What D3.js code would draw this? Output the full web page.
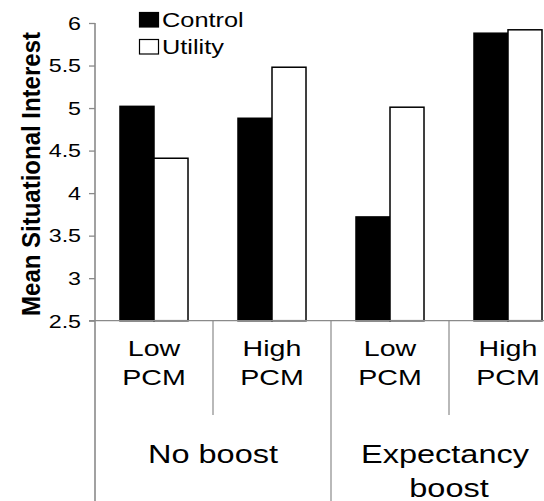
<!DOCTYPE html>
<html>
<head>
<meta charset="utf-8">
<script src="https://cdn.jsdelivr.net/npm/d3@7"></script>
<style>
  body { margin: 0; background: #fff; }
  text { font-family: "Liberation Sans", Arial, sans-serif; fill: #000; }
</style>
</head>
<body>
<div id="chart"></div>
<script>
// data
var cells = ["Low PCM (No boost)", "High PCM (No boost)", "Low PCM (Expectancy)", "High PCM (Expectancy)"];
var cellLines = [["Low", "PCM"], ["High", "PCM"], ["Low", "PCM"], ["High", "PCM"]];
var groups = ["No boost", "Expectancy boost"];
var groupLines = [["No boost"], ["Expectancy", "boost"]];
var series = ["Control", "Utility"];
var control = [5.02, 4.88, 3.72, 5.88];
var utility = [4.41, 5.48, 5.01, 5.92];
var yTicks = [2.5, 3, 3.5, 4, 4.5, 5, 5.5, 6];

var W = 544, H = 501;
var plotLeft = 95, plotRight = 567, plotTop = 23, base = 320.7;
var stretch = 1.3; // text in the picture is drawn wide

var svg = d3.select("#chart").append("svg")
  .attr("width", W)
  .attr("height", H);

var y = d3.scaleLinear().domain([2.5, 6]).range([base, plotTop]);

var x0 = d3.scaleBand()
  .domain(cells)
  .range([plotLeft, plotRight])
  .paddingInner(0)
  .paddingOuter(0);

var x1 = d3.scaleBand()
  .domain(series)
  .range([0, x0.bandwidth()])
  .paddingInner(0)
  .paddingOuter(0.735);

// bars
var rows = cells.map(function(c, i) {
  return [{cell: c, s: "Control", v: control[i]}, {cell: c, s: "Utility", v: utility[i]}];
});

svg.append("g").selectAll("g")
  .data(rows)
  .enter().append("g")
  .selectAll("rect")
  .data(function(d) { return d; })
  .enter().append("rect")
    .attr("x", function(d) { return x0(d.cell) + x1(d.s); })
    .attr("y", function(d) { return y(d.v); })
    .attr("width", x1.bandwidth())
    .attr("height", function(d) { return y(2.5) - y(d.v); })
    .style("fill", function(d) { return d.s == "Control" ? "#000" : "#fff"; })
    .style("stroke", "#000")
    .style("stroke-width", 1.5);

// y axis
var yAxis = svg.append("g")
  .attr("transform", "translate(" + plotLeft + ",0)")
  .call(d3.axisLeft(y).tickValues(yTicks).tickSize(6).tickFormat(d3.format("")));
yAxis.select(".domain").remove();
yAxis.selectAll(".tick line").style("stroke", "#8a8a8a").style("stroke-width", 1.3);
yAxis.selectAll(".tick text")
  .attr("x", -10.5)
  .attr("dy", "0.36em")
  .attr("transform", "scale(1.33,1)")
  .style("font-size", "17.5px")
  .style("font-family", "'Liberation Sans', Arial, sans-serif")
  .style("fill", "#000");

// axis lines and dividers
var grey = "#8a8a8a";
svg.append("line")
  .attr("x1", plotLeft).attr("x2", plotLeft)
  .attr("y1", plotTop).attr("y2", H)
  .style("stroke", grey).style("stroke-width", 1.6);
svg.append("line")
  .attr("x1", plotLeft - 6).attr("x2", W)
  .attr("y1", base).attr("y2", base)
  .style("stroke", grey).style("stroke-width", 1.3);

cells.forEach(function(c, i) {
  if (i == 0) return;
  var xx = x0(c);
  svg.append("line")
    .attr("x1", xx).attr("x2", xx)
    .attr("y1", base).attr("y2", i % 2 == 0 ? H : 415)
    .style("stroke", grey).style("stroke-width", 1.2);
});

// wide text helper
function wideText(g, str, x, yy, size, anchor, weight) {
  g.append("text")
    .attr("transform", "translate(" + x + "," + yy + ") scale(" + stretch + ",1)")
    .attr("text-anchor", anchor)
    .style("font-size", size + "px")
    .style("font-weight", weight || "normal")
    .text(str);
}

// category labels
cells.forEach(function(c, i) {
  var cx = x0(c) + x0.bandwidth() / 2;
  wideText(svg, cellLines[i][0], cx, 355.5, 22, "middle");
  wideText(svg, cellLines[i][1], cx, 385, 22, "middle");
});

// group labels
groups.forEach(function(g, i) {
  var cx = x0(cells[i * 2 + 1]);
  var lines = groupLines[i];
  lines.forEach(function(t, j) {
    wideText(svg, t, i == 1 && j == 0 ? cx - 4 : cx, 463 + j * 34, 25, "middle");
  });
});

// y label
svg.append("text")
  .attr("transform", "translate(40,174) rotate(-90) scale(1,1.05)")
  .attr("text-anchor", "middle")
  .style("font-size", "24px")
  .style("font-weight", "bold")
  .text("Mean Situational Interest");

// legend
var legend = svg.append("g");
series.forEach(function(s, i) {
  legend.append("rect")
    .attr("x", 139.5)
    .attr("y", 12.5 + i * 27)
    .attr("width", 19)
    .attr("height", 14.5)
    .style("fill", i == 0 ? "#000" : "#fff")
    .style("stroke", "#000")
    .style("stroke-width", 1.2);
  wideText(legend, s, 162, 27.3 + i * 27, 19.5, "start");
});
</script>
</body>
</html>
